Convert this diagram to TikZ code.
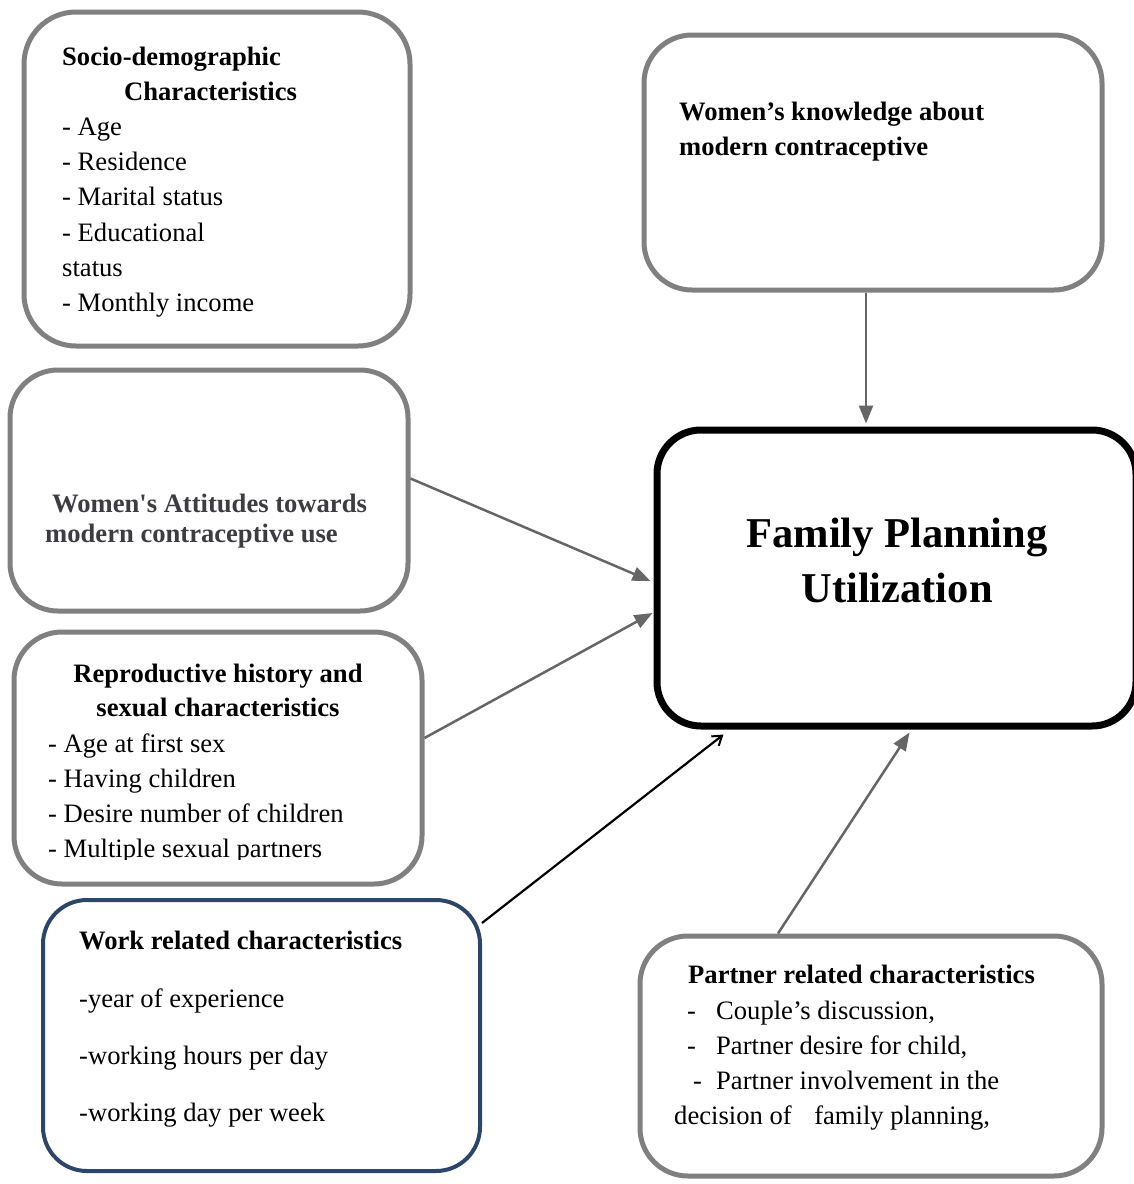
\documentclass[tikz,border=0pt]{standalone}
\usepackage{fontspec}
\setmainfont{Liberation Serif}[Ligatures=TeXOff]
\usetikzlibrary{arrows.meta}
\definecolor{boxgray}{HTML}{808080}
\definecolor{arrgray}{HTML}{666666}
\definecolor{workblue}{HTML}{2B4669}
\definecolor{attgray}{HTML}{3C3C42}
\begin{document}
\begin{tikzpicture}[x=1pt,y=-1pt,
  box/.style={draw=boxgray, line width=5pt, rounded corners=48pt, inner sep=0pt, fill=white},
  txt/.style={anchor=base west, inner sep=0pt, font=\fontsize{26.6}{35}\selectfont},
  hd/.style={txt, font=\fontsize{26.6}{35}\selectfont\bfseries},
  hdc/.style={hd, anchor=base},
  big/.style={anchor=base, inner sep=0pt, font=\fontsize{42.5}{55}\selectfont\bfseries},
  arr/.style={draw=arrgray, line width=2.5pt, -{Triangle[length=18pt,width=14pt]}},
  blackarr/.style={draw=black, line width=2.2pt, -{Straight Barb[length=9pt,width=12pt,line width=2pt]}},
]
\useasboundingbox (0,0) rectangle (1134,1184);
\fill[white] (0,0) rectangle (1134,1184);

% boxes
\node[box, minimum width=386pt, minimum height=334pt, rounded corners=52pt] (socio) at (217,179) {};
\node[box, minimum width=458pt, minimum height=255pt] (know) at (873,162.5) {};
\node[box, minimum width=398pt, minimum height=241pt] (att) at (209,490.5) {};
\node[box, minimum width=408pt, minimum height=252pt] (rep) at (218,758) {};
\node[box, draw=workblue, line width=4pt, minimum width=437pt, minimum height=271pt, rounded corners=44pt] (work) at (261.5,1035.5) {};
\node[box, minimum width=462pt, minimum height=240pt] (partner) at (871,1056) {};
\node[box, draw=black, line width=7pt, minimum width=479pt, minimum height=296pt, rounded corners=44pt] (main) at (896.5,578) {};

% socio-demographic
\node[hd] (s1) at (62,65) {Socio-demographic};
\node[hd] (s2) at (124,100) {Characteristics};
\node[txt] (s3) at (62,135) {- Age};
\node[txt] (s4) at (62,170) {- Residence};
\node[txt] (s5) at (62,205) {- Marital status};
\node[txt] (s6) at (62,241) {- Educational};
\node[txt] (s7) at (62,276) {status};
\node[txt] (s8) at (62,311) {- Monthly income};

% knowledge
\node[hd] (k1) at (679,120) {Women’s knowledge about};
\node[hd] (k2) at (679,155) {modern contraceptive};

% attitudes
\node[hd, text=attgray] (a1) at (52,512) {Women's Attitudes towards};
\node[hd, text=attgray] (a2) at (45,542) {modern contraceptive use};

% reproductive
\node[hdc] (r1) at (218,682) {Reproductive history and};
\node[hdc] (r2) at (218,716) {sexual characteristics};
\node[txt] (r3) at (48,752) {- Age at first sex};
\node[txt] (r4) at (48,787) {- Having children};
\node[txt] (r5) at (48,822) {- Desire number of children};
\begin{scope}
  \clip (0,0) rectangle (1134,859.5);
  \node[txt] (r6) at (48,857) {- Multiple sexual partners};
\end{scope}

% work
\node[hd] (w1) at (79,949) {Work related characteristics};
\node[txt] (w2) at (79,1007) {-year of experience};
\node[txt] (w3) at (79,1064) {-working hours per day};
\node[txt] (w4) at (79,1121) {-working day per week};

% partner
\node[hd] (p1) at (688,983) {Partner related characteristics};
\node[txt] (p2d) at (687,1019) {-};
\node[txt] (p2) at (716,1019) {Couple’s discussion,};
\node[txt] (p3d) at (687,1054) {-};
\node[txt] (p3) at (716,1054) {Partner desire for child,};
\node[txt] (p4d) at (693,1089) {-};
\node[txt] (p4) at (716,1089) {Partner involvement in the};
\node[txt] (p5) at (674,1124) {decision of\hspace{0.6em} family planning,};

% main title
\node[big] (m1) at (897,547) {Family Planning};
\node[big] (m2) at (897,602) {Utilization};

% connectors
\draw[arr] ([xshift=-7pt]know.south) -- ([xshift=-7pt,yshift=3pt]know.south |- main.north);
\draw[arr] ([yshift=12pt]att.east) -- ([xshift=-3pt,yshift=-3pt]main.west);
\draw[arr] ([yshift=20pt]rep.east) -- ([xshift=-1pt,yshift=-35pt]main.west);
\draw[blackarr] ([yshift=-25pt]work.north east) -- ([xshift=70pt,yshift=-5pt]main.south west);
\draw[arr] ([xshift=-93pt]partner.north) -- ([xshift=13pt,yshift=-3pt]main.south);
\end{tikzpicture}
\end{document}
